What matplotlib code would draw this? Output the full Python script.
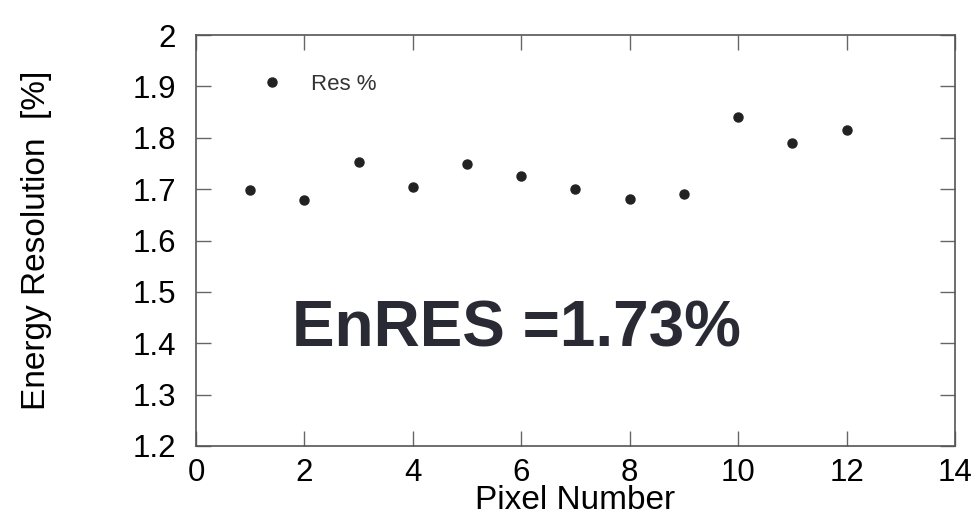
import matplotlib
matplotlib.use("Agg")
import matplotlib.pyplot as plt

# ── DATA ─────────────────────────────────────────────
PIXELS = [1, 2, 3, 4, 5, 6, 7, 8, 9, 10, 11, 12]
RES    = [1.698, 1.679, 1.753, 1.704, 1.749, 1.726,
          1.700, 1.681, 1.690, 1.840, 1.789, 1.816]
X_TICKS = [0, 2, 4, 6, 8, 10, 12, 14]
Y_TICKS = [1.2, 1.3, 1.4, 1.5, 1.6, 1.7, 1.8, 1.9, 2.0]
Y_LABELS = ["1.2", "1.3", "1.4", "1.5", "1.6", "1.7", "1.8", "1.9", "2"]

plt.rcParams["font.family"] = ["Liberation Sans", "DejaVu Sans"]

fig = plt.figure(figsize=(9.76, 5.15), dpi=100)
ax = fig.add_axes([0.2008, 0.134, 0.7777, 0.798])

ax.plot(PIXELS, RES, "o", color="#222222", markersize=6.5, label="Res %")

ax.set_xlim(0, 14)
ax.set_ylim(1.2, 2.0)
ax.set_xticks(X_TICKS)
ax.set_yticks(Y_TICKS)
ax.set_yticklabels(Y_LABELS)
ax.tick_params(direction="in", length=11, width=1, color="#666666",
               labelsize=22.5, labelcolor="black", top=True, right=True)
ax.tick_params(axis="x", pad=8.5)
ax.tick_params(axis="y", pad=14.5)

for sp in ax.spines.values():
    sp.set_color("#555555")
    sp.set_linewidth(1.2)

ax.set_xlabel("Pixel Number", fontsize=24)
ax.xaxis.set_label_coords(0.5, -0.096)
ax.set_ylabel("Energy Resolution  [%]", fontsize=24)
ax.yaxis.set_label_coords(-0.19, 0.5)

ax.legend(loc="upper left", bbox_to_anchor=(0.045, 0.955), frameon=False,
          fontsize=16, handletextpad=0.75, labelcolor="#333333")

ax.text(0.4219, 0.241, "EnRES =1.73%", transform=ax.transAxes,
        ha="center", va="baseline", fontsize=46, fontweight="bold",
        color="#2a2a35")

fig.savefig("out.png", dpi=100)
